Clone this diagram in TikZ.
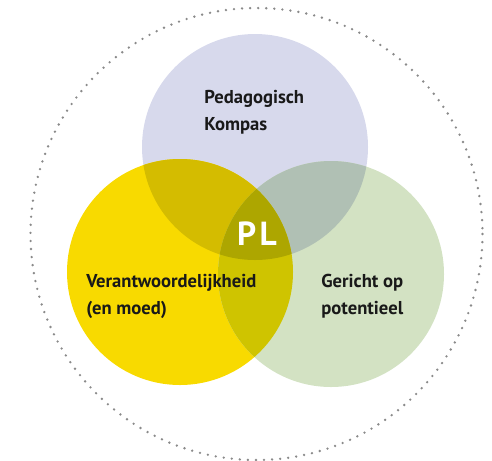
\documentclass[tikz,border=0pt]{standalone}
\usepackage{fontspec}
\setmainfont{PT Sans}[Ligatures=NoCommon]
\usetikzlibrary{positioning}
\definecolor{kompascol}{HTML}{D7D9EC}
\definecolor{verantwcol}{HTML}{F8DA00}
\definecolor{potcol}{HTML}{D3E2C3}
\definecolor{kvcol}{HTML}{D4BC00}
\definecolor{kpcol}{HTML}{B0C0B4}
\definecolor{vpcol}{HTML}{CFC400}
\definecolor{plcol}{HTML}{ADA600}
\definecolor{dotcol}{HTML}{8A8A8A}
\tikzset{
  lbl/.style={anchor=west, inner sep=0pt, align=left,
    font=\fontsize{10.6}{15.3}\selectfont\bfseries, text=black!90},
}
\def\circr{113}
\begin{document}
\begin{tikzpicture}[x=0.02cm, y=-0.02cm]
      \useasboundingbox (0,0) rectangle (492,460);
      % OUTER RING
      \draw[dotcol, line width=1.5pt, line cap=round, dash pattern=on 0pt off 4.6pt]
        (256.5,234) circle[radius=226];
      % CIRCLES
      % -- centres
      \coordinate (kompas) at (255,147);
      \coordinate (verantw) at (180,272);
      \coordinate (pot) at (331,274);
      % -- discs
      \fill[kompascol] (kompas) circle[radius=\circr];
      \fill[verantwcol] (verantw) circle[radius=\circr];
      \fill[potcol] (pot) circle[radius=\circr];
      % -- overlaps
      \begin{scope}
        \clip (kompas) circle[radius=\circr];
        \fill[kvcol] (verantw) circle[radius=\circr];
        \fill[kpcol] (pot) circle[radius=\circr];
      \end{scope}
      \begin{scope}
        \clip (verantw) circle[radius=\circr];
        \fill[vpcol] (pot) circle[radius=\circr];
        \clip (pot) circle[radius=\circr];
        \fill[plcol] (kompas) circle[radius=\circr];
      \end{scope}
      % LABELS
      \node[lbl] (kompaslbl) at (204,112) {Pedagogisch\\Kompas};
      \node[lbl] (verantwlbl) at (86,296) {Verantwoordelijkheid\\(en moed)};
      \node[lbl] (potlbl) at (321,296) {Gericht op\\potentieel};
      \node[inner sep=0pt, text=white, font=\fontsize{19}{19}\selectfont\bfseries]
        (pl) at (257,234) {P\kern2ptL};
    \end{tikzpicture}
\end{document}
